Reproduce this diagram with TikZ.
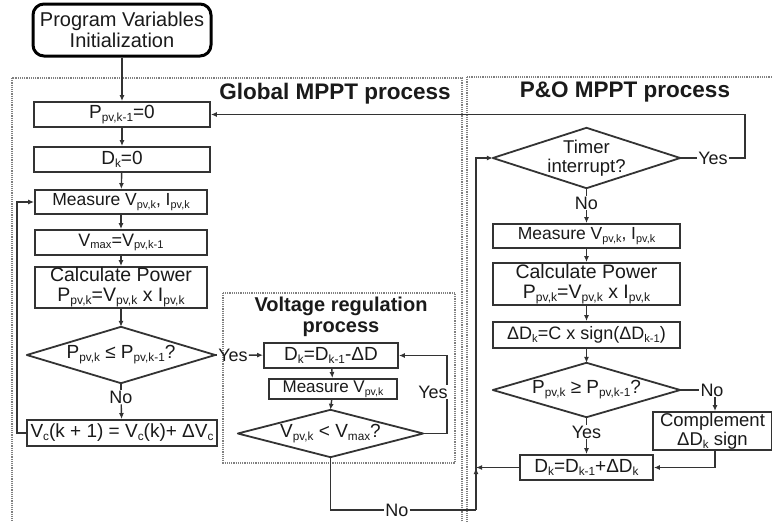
\documentclass[tikz,border=0pt]{standalone}
\usepackage{fontspec}
\setmainfont{Liberation Sans}
\usetikzlibrary{arrows.meta}
\newcommand\sbs[1]{\raisebox{-0.3ex}{\scalebox{0.62}{#1}}}
\definecolor{ln}{HTML}{333333}
\definecolor{dsh}{HTML}{808080}
\definecolor{tx}{HTML}{1A1A1A}
\begin{document}
\begin{tikzpicture}[x=1pt,y=-1pt,
  box/.style={draw=ln, line width=1.9pt, inner sep=0pt, align=center, text=tx},
  lab/.style={inner sep=1pt, text=tx, font=\fontsize{18}{20}\selectfont},
  conn/.style={draw=ln, line width=1.4pt},
  arr/.style={conn, -{Latex[length=6pt,width=5pt]}},
  dashbox/.style={draw=dsh, line width=1.6pt, dash pattern=on 1.2pt off 1pt},
  dia/.style={inner sep=0pt, align=center, text=tx},
  diaedge/.style={draw=ln, line width=1.8pt, line join=round},
  ttl/.style={font=\bfseries\fontsize{22.5}{24}\selectfont, text=tx, align=center}]
\useasboundingbox (0,0) rectangle (772,522);
\clip (0,0) rectangle (772,522);
\fill[white] (0,0) rectangle (772,522);

% process frames
\draw[dashbox] (12,78) rectangle (462,540);
\draw[dashbox] (467,77) rectangle (790,540);
\draw[dashbox] (223,293) rectangle (455,463);
\node[ttl] (tglob) at (335,94) {Global MPPT process};
\node[ttl] (tpo) at (625,92) {P\&O MPPT process};
\node[ttl, font=\bfseries\fontsize{20}{21}\selectfont] (tvr) at (341,317) {Voltage regulation\\process};

% start
\node[draw=black, line width=3pt, rounded corners=11pt, minimum width=178pt, minimum height=52pt, inner sep=0pt, align=center, text=tx,
  font=\fontsize{20}{21}\selectfont] (init) at (122,30) {Program Variables\\Initialization};

% Global MPPT column
\node[box, minimum width=176pt, minimum height=25pt, font=\fontsize{19}{20}\selectfont] (p0) at (122,114.5) {P\sbs{pv,k-1}=0};
\node[box, minimum width=176pt, minimum height=25pt, font=\fontsize{19}{20}\selectfont] (d0) at (122,159.5) {D\sbs{k}=0};
\node[box, minimum width=172pt, minimum height=24pt, font=\fontsize{17.5}{18}\selectfont] (m1) at (121,202) {Measure V\sbs{pv,k}, I\sbs{pv,k}};
\node[box, minimum width=172pt, minimum height=25pt, font=\fontsize{18}{19}\selectfont] (vmax) at (121,242.5) {V\sbs{max}=V\sbs{pv,k-1}};
\node[box, minimum width=172pt, minimum height=41pt, font=\fontsize{19.5}{20}\selectfont] (c1) at (121,287.5) {Calculate Power\\P\sbs{pv,k}=V\sbs{pv,k} x I\sbs{pv,k}};
\node[dia, minimum width=188pt, minimum height=56pt, font=\fontsize{19}{20}\selectfont] (q1) at (121,355) {P\sbs{pv,k} ≤ P\sbs{pv,k-1}?};
\draw[diaedge] (q1.west) -- (q1.north) -- (q1.east) -- (q1.south) -- cycle;
\node[lab] (no1) at (121,397) {No};
\node[box, minimum width=190pt, minimum height=26pt, font=\fontsize{19}{20}\selectfont] (vc) at (122,433) {V\sbs{c}(k + 1) = V\sbs{c}(k)+ ΔV\sbs{c}};
\node[lab] (yes1) at (233,355) {Yes};

% Voltage regulation
\node[box, minimum width=134pt, minimum height=25pt, font=\fontsize{19}{20}\selectfont] (dr) at (331,355.5) {D\sbs{k}=D\sbs{k-1}-ΔD};
\node[box, minimum width=128pt, minimum height=20pt, font=\fontsize{17}{18}\selectfont] (mr) at (333,389) {Measure V\sbs{pv,k}};
\node[dia, minimum width=185pt, minimum height=47pt, font=\fontsize{19}{20}\selectfont] (q2) at (330.5,433.5) {V\sbs{pv,k} < V\sbs{max}?};
\draw[diaedge] (q2.west) -- (q2.north) -- (q2.east) -- (q2.south) -- cycle;
\coordinate (r2a) at (447,433.5);
\coordinate (r2b) at (447,355.5);
\node[lab] (no2) at (397,510) {No};
\coordinate (j1) at (476,510);
\coordinate (j2) at (476,467.5);
\coordinate (j3) at (476,468);

% P&O column
\node[dia, minimum width=187pt, minimum height=60pt, font=\fontsize{18.5}{19}\selectfont] (q3) at (586.5,158) {Timer\\interrupt?};
\draw[diaedge] (q3.west) -- (q3.north) -- (q3.east) -- (q3.south) -- cycle;
\node[lab] (yes3) at (713,158) {Yes};
\coordinate (t1) at (745,158);
\coordinate (t2) at (745,114.5);
\node[lab] (no3) at (586.5,203) {No};
\node[box, minimum width=187pt, minimum height=24pt, font=\fontsize{17.5}{18}\selectfont] (m2) at (586.5,236) {Measure V\sbs{pv,k}, I\sbs{pv,k}};
\node[box, minimum width=187pt, minimum height=42pt, font=\fontsize{19.5}{20}\selectfont] (c2) at (586.5,284) {Calculate Power\\P\sbs{pv,k}=V\sbs{pv,k} x I\sbs{pv,k}};
\node[box, minimum width=187pt, minimum height=26pt, font=\fontsize{18}{19}\selectfont] (dd) at (586.5,335) {ΔD\sbs{k}=C x sign(ΔD\sbs{k-1})};
\node[dia, minimum width=187pt, minimum height=54pt, font=\fontsize{19}{20}\selectfont] (q4) at (586.5,390) {P\sbs{pv,k} ≥ P\sbs{pv,k-1}?};
\draw[diaedge] (q4.west) -- (q4.north) -- (q4.east) -- (q4.south) -- cycle;
\node[lab] (no4) at (712,390) {No};
\node[lab] (yes4) at (586.5,432) {Yes};
\node[box, minimum width=119pt, minimum height=38pt, font=\fontsize{18.5}{19}\selectfont] (cp) at (712.5,431) {Complement\\ΔD\sbs{k} sign};
\node[box, minimum width=133pt, minimum height=25pt, font=\fontsize{19}{20}\selectfont] (dk) at (586.5,467.5) {D\sbs{k}=D\sbs{k-1}+ΔD\sbs{k}};
\coordinate (c3) at (715,467.5);

% connectors: Global MPPT
\draw[arr] (init) -- (p0);
\draw[arr] (p0) -- (d0);
\draw[arr] (d0) -- (m1);
\draw[arr] (m1) -- (vmax);
\draw[arr] (vmax) -- (c1);
\draw[arr] (c1) -- (q1.north);
\draw[conn] (q1.south) -- (no1);
\draw[arr] (no1) -- (vc);
\draw[arr] (vc.west) -- ++(-9,0) |- (m1.west);
\draw[conn] (q1.east) -- (yes1);
\draw[arr] (yes1) -- (dr);

% Voltage regulation
\draw[arr] (dr) -- (mr);
\draw[arr] (mr) -- (q2.north);
\draw[arr] (q2.east) -- (r2a) -- (r2b) -- (dr.east);
\node[lab, fill=white] (yes2) at (433,392) {Yes};
\draw[conn] (q2.south) |- (no2.west);
\draw[conn] (no2.east) -- (j1);
\draw[arr] (j1) -- (j3);
\draw[arr] (j1) |- (q3.west);

% P&O
\draw[conn] (q3.east) -- (yes3);
\draw[arr] (yes3) -- (t1) -- (t2) -- (p0.east);
\draw[conn] (q3.south) -- (no3);
\draw[arr] (no3) -- (m2);
\draw[arr] (m2) -- (c2);
\draw[arr] (c2) -- (dd);
\draw[arr] (dd) -- (q4.north);
\draw[conn] (q4.east) -- (no4);
\draw[arr] (no4.south -| c3) -- (c3 |- cp.north);
\draw[conn] (q4.south) -- (yes4);
\draw[arr] (yes4) -- (dk);
\draw[arr] (c3 |- cp.south) -- (c3) -- (dk.east);
\draw[arr] (dk.west) -- (j2);
\end{tikzpicture}
\end{document}
